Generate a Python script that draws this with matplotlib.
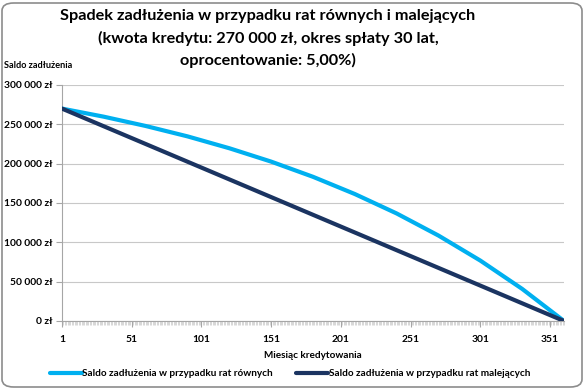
import matplotlib
matplotlib.use("Agg")
import matplotlib.pyplot as plt
from matplotlib.patches import FancyBboxPatch
from matplotlib.ticker import FuncFormatter, MultipleLocator, FixedLocator

# ---- data ----
months = [0, 30, 60, 90, 120, 150, 180, 210, 240, 270, 300, 330, 360]
saldo_rowne = [270000, 259700, 247900, 234700, 219600, 202600, 183300,
               161400, 136700, 108600, 76800, 40800, 0]
saldo_malejace = [270000, 247500, 225000, 202500, 180000, 157500, 135000,
                  112500, 90000, 67500, 45000, 22500, 0]
x_tick_labels = [1, 51, 101, 151, 201, 251, 301, 351]
y_ticks = [0, 50000, 100000, 150000, 200000, 250000, 300000]
title_lines = ["Spadek zadłużenia w przypadku rat równych i malejących",
               "(kwota kredytu: 270 000 zł, okres spłaty 30 lat,",
               "oprocentowanie: 5,00%)"]
label_rowne = "Saldo zadłużenia w przypadku rat równych"
label_malejace = "Saldo zadłużenia w przypadku rat malejących"

plt.rcParams['font.family'] = ['Lato', 'DejaVu Sans']

W, H = 585, 389
fig = plt.figure(figsize=(W / 100, H / 100), dpi=100)

# chart border
border = FancyBboxPatch((2 / W, 2 / H), (W - 5) / W, (H - 5) / H,
                        boxstyle="round,pad=0,rounding_size=0.02",
                        transform=fig.transFigure, facecolor="white",
                        edgecolor="#8c8c8c", linewidth=1.2, zorder=-10)
fig.patches.append(border)

ax = fig.add_axes([62 / W, 1 - 321 / H, (564 - 62) / W, (321 - 85) / H])
ax.set_zorder(5)
ax.set_facecolor("none")

xs = [m + 1 for m in months]
ax.plot(xs, saldo_rowne, color="#00B0F0", lw=3.0, solid_capstyle="round",
        label=label_rowne, zorder=3)
ax.plot(xs, saldo_malejace, color="#1B3461", lw=3.0, solid_capstyle="round",
        label=label_malejace, zorder=4)

ax.set_xlim(1, 361)
ax.set_ylim(0, 300000)
ax.set_yticks(y_ticks)
ax.yaxis.set_major_formatter(FuncFormatter(
    lambda v, p: f"{int(v):,}".replace(",", " ") + " zł"))
ax.xaxis.set_major_locator(FixedLocator(x_tick_labels))
ax.xaxis.set_minor_locator(MultipleLocator(1))
ax.grid(axis="y", color="#c8c8c8", lw=0.8)
ax.set_axisbelow(True)

for s in ["top", "right"]:
    ax.spines[s].set_visible(False)
for s in ["left", "bottom"]:
    ax.spines[s].set_color("#a6a6a6")
    ax.spines[s].set_linewidth(0.8)

ax.tick_params(axis="y", length=4, color="#a6a6a6", labelsize=7.4, pad=3)
ax.tick_params(axis="x", which="major", length=4, color="#a6a6a6",
               labelsize=7.4, pad=6)
ax.tick_params(axis="x", which="minor", length=3, color="#c8c8c8", width=0.5)
for lab in ax.get_xticklabels() + ax.get_yticklabels():
    lab.set_fontweight("bold")

ax.set_xlabel("Miesiąc kredytowania", fontsize=7.2, fontweight="bold",
              labelpad=5)

fig.text(4 / W, 1 - 65 / H, "Saldo zadłużenia", fontsize=6.6,
         fontweight="bold", ha="left", va="center")

for i, t in enumerate(title_lines):
    fig.text(268 / W, 1 - (16 + 22 * i) / H, t, fontsize=11.7,
             fontweight="bold", ha="center", va="center")

leg = fig.legend(loc="center", bbox_to_anchor=(290 / W, 1 - 374 / H),
                 ncol=2, frameon=False, fontsize=7.2, handlelength=3.2,
                 handletextpad=0.1, columnspacing=2.3)
for t in leg.get_texts():
    t.set_fontweight("bold")

fig.savefig("out.png", dpi=100)
